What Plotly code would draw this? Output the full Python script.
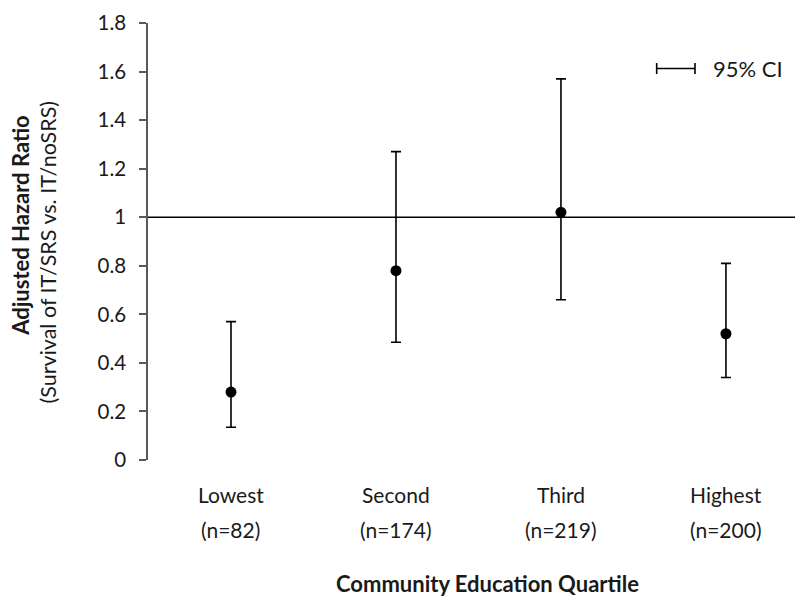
import plotly.graph_objects as go

categories = ["Lowest", "Second", "Third", "Highest"]
counts = ["(n=82)", "(n=174)", "(n=219)", "(n=200)"]
hazard_ratio = [0.28, 0.78, 1.02, 0.52]
ci_low = [0.135, 0.485, 0.66, 0.34]
ci_high = [0.57, 1.27, 1.57, 0.81]
y_tick_vals = [0, 0.2, 0.4, 0.6, 0.8, 1.0, 1.2, 1.4, 1.6, 1.8]
y_tick_text = ["0", "0.2", "0.4", "0.6", "0.8", "1", "1.2", "1.4", "1.6", "1.8"]
reference_value = 1.0
legend_label = "95% CI"

FONT = "Lato"
TXT = "#1a1a1a"

err_plus = [h - m for h, m in zip(ci_high, hazard_ratio)]
err_minus = [m - l for m, l in zip(hazard_ratio, ci_low)]

fig = go.Figure()
fig.add_trace(go.Scatter(
    x=categories, y=hazard_ratio, mode="markers",
    marker=dict(color="black", size=11),
    error_y=dict(type="data", symmetric=False, array=err_plus,
                 arrayminus=err_minus, color="black", thickness=1.6, width=5),
    showlegend=False, hoverinfo="skip",
))

# reference line at HR = 1
fig.add_shape(type="line", xref="paper", x0=0, x1=1, yref="y",
              y0=reference_value, y1=reference_value,
              line=dict(color="black", width=1.6))

annotations = []
for c, n in zip(categories, counts):
    annotations.append(dict(x=c, xref="x", y=0, yref="paper", text=c,
                            showarrow=False, xanchor="center", yanchor="middle",
                            yshift=-34, font=dict(family=FONT, size=21, color=TXT)))
    annotations.append(dict(x=c, xref="x", y=0, yref="paper", text=n,
                            showarrow=False, xanchor="center", yanchor="middle",
                            yshift=-69, font=dict(family=FONT, size=21, color=TXT)))

annotations.append(dict(x=0.519, xref="paper", y=0, yref="paper",
                        text="<b>Community Education Quartile</b>", showarrow=False,
                        xanchor="center", yanchor="middle", yshift=-123,
                        font=dict(family=FONT, size=22, color=TXT)))
annotations.append(dict(x=0, xref="paper", y=0.536, yref="paper",
                        text="<b>Adjusted Hazard Ratio</b>", showarrow=False,
                        textangle=-90, xanchor="center", yanchor="middle",
                        xshift=-127, font=dict(family=FONT, size=22, color=TXT)))
annotations.append(dict(x=0, xref="paper", y=0.475, yref="paper",
                        text="(Survival of IT/SRS vs. IT/noSRS)", showarrow=False,
                        textangle=-90, xanchor="center", yanchor="middle",
                        xshift=-100, font=dict(family=FONT, size=21.5, color=TXT)))

# legend glyph for 95% CI
lx0, lx1, ly, cap = 0.7766, 0.8351, 0.8958, 0.0126
fig.add_shape(type="line", xref="paper", yref="paper", x0=lx0, x1=lx1, y0=ly, y1=ly,
              line=dict(color="black", width=1.6))
for xx in (lx0, lx1):
    fig.add_shape(type="line", xref="paper", yref="paper", x0=xx, x1=xx,
                  y0=ly - cap, y1=ly + cap, line=dict(color="black", width=1.6))
annotations.append(dict(x=0.86, xref="paper", y=ly, yref="paper", text=legend_label,
                        showarrow=False, xanchor="left", yanchor="middle",
                        font=dict(family=FONT, size=22, color=TXT)))

fig.update_layout(
    width=795, height=595,
    margin=dict(l=140, r=0, t=15, b=143),
    paper_bgcolor="white", plot_bgcolor="white",
    annotations=annotations,
    xaxis=dict(type="category", range=[-0.503, 3.467], showticklabels=False,
               showline=False, ticks="", showgrid=False, zeroline=False),
    yaxis=dict(range=[0, 1.8], tickvals=y_tick_vals, ticktext=y_tick_text,
               showline=True, linecolor="#595959", linewidth=1.5,
               ticks="outside", ticklen=7, tickwidth=1.5, tickcolor="#595959",
               showgrid=False, zeroline=False, ticklabelstandoff=9,
               tickfont=dict(family=FONT, size=20.5, color=TXT)),
)

fig.write_html("out.html")
